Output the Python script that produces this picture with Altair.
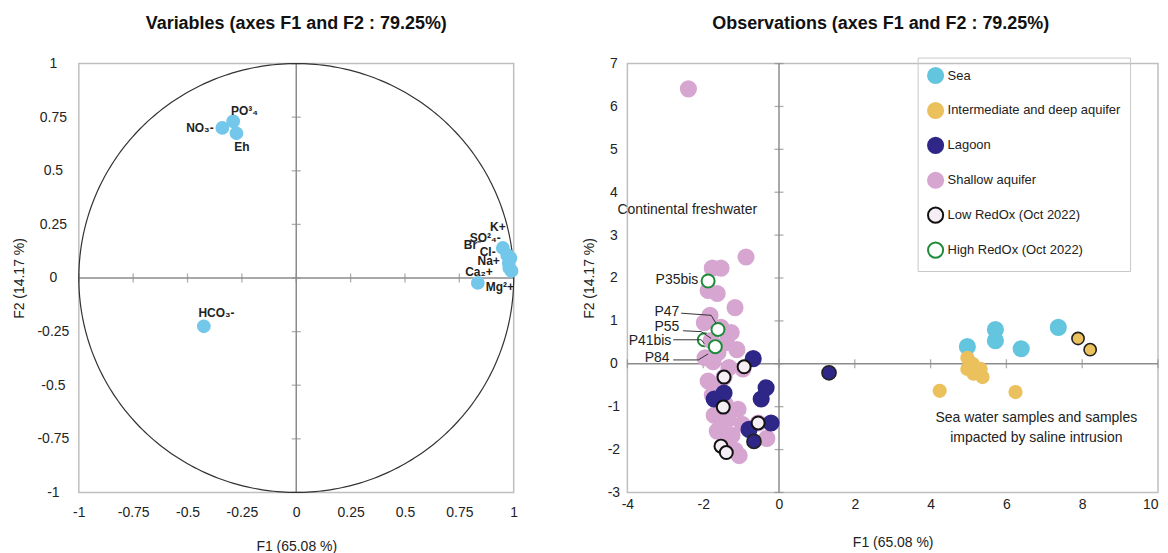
import altair as alt
import pandas as pd
import numpy as np

FONT = "Liberation Sans"
GRAY = "#8C8C8C"

# ---------------- Left panel: variables (correlation circle) ----------------
var_names = ["NO₃-", "PO³₄", "Eh", "HCO₃-", "K+", "SO²₄-", "Br⁻", "Cl-", "Na+", "Ca₂+", "Mg²+"]
var_f1 = [-0.34, -0.29, -0.275, -0.425, 0.95, 0.97, 0.985, 0.977, 0.98, 0.835, 0.99]
var_f2 = [0.70, 0.73, 0.675, -0.225, 0.14, 0.107, 0.093, 0.07, 0.047, -0.023, 0.033]
lab_f1 = [-0.38, -0.30, -0.285, -0.45, 0.963, 0.94, 0.85, 0.917, 0.936, 0.904, 0.872]
lab_f2 = [0.70, 0.78, 0.61, -0.165, 0.24, 0.185, 0.153, 0.12, 0.08, 0.028, -0.042]
lab_align = ["right", "left", "left", "left", "right", "right", "right", "right", "right", "right", "left"]

left_ticks = [-1, -0.75, -0.5, -0.25, 0, 0.25, 0.5, 0.75, 1]

# ---------------- Right panel: observations ----------------
groups = ["Sea", "Intermediate and deep aquifer", "Lagoon", "Shallow aquifer",
          "Low RedOx (Oct 2022)", "High RedOx (Oct 2022)"]
fills = ["#63C5DE", "#EBC15D", "#2E2787", "#D6A6D1", "#F6EEF5", "#FFFFFF"]
strokes = ["#63C5DE", "#EBC15D", "#2E2787", "#D6A6D1", "#111111", "#1E8B3A"]

sea_f1 = [4.97, 5.71, 5.71, 6.39, 7.37]
sea_f2 = [0.40, 0.80, 0.54, 0.35, 0.85]

deep_f1 = [4.97, 5.11, 4.97, 5.18, 5.32, 5.37, 5.13, 4.24, 6.24]
deep_f2 = [0.14, 0.00, -0.12, -0.16, -0.12, -0.31, -0.23, -0.63, -0.66]
deep_out_f1 = [7.89, 8.21]
deep_out_f2 = [0.59, 0.33]

lagoon_f1 = [-0.68, -0.34, -0.47, -1.45, -1.71, -0.21, -0.79]
lagoon_f2 = [0.12, -0.56, -0.82, -0.68, -0.82, -1.38, -1.53]
lagoon_out_f1 = [1.32, -0.66]
lagoon_out_f2 = [-0.21, -1.81]

shallow_f1 = [-2.39, -0.87, -1.76, -1.53, -1.87, -1.63, -1.16, -1.82, -1.97, -1.53,
              -1.26, -1.79, -1.39, -1.11, -1.61, -1.95, -1.74, -1.32, -0.95, -1.87,
              -1.61, -1.76, -1.42, -1.08, -1.71, -1.34, -1.53, -0.97, -1.63, -1.24,
              -0.32, -1.42, -1.16, -1.05, -0.55, -1.45]
shallow_f2 = [6.41, 2.49, 2.23, 2.23, 1.71, 1.64, 1.31, 1.13, 0.96, 0.85,
              0.73, 0.54, 0.49, 0.33, 0.26, 0.14, 0.05, -0.09, -0.12, -0.40,
              -0.56, -0.73, -0.94, -1.06, -1.20, -1.29, -1.43, -1.41, -1.57, -1.67,
              -1.74, -1.85, -2.02, -2.14, -1.38, -0.31]

low_f1 = [-1.45, -1.47, -0.92, -0.55, -1.53, -1.39]
low_f2 = [-0.31, -1.01, -0.07, -1.38, -1.92, -2.07]

high_f1 = [-1.87, -1.61, -1.68]
high_f2 = [1.93, 0.80, 0.40]
high_hidden_f1 = [-1.47, -1.97]
high_hidden_f2 = [0.61, 0.56]

p_labels = ["P35bis", "P47", "P55", "P41bis", "P84"]
p_lab_f1 = [-2.13, -2.63, -2.63, -2.84, -2.89]
p_lab_f2 = [1.95, 1.20, 0.85, 0.54, 0.14]
leader_name = ["P47"] * 3 + ["P55"] * 3 + ["P41bis"] * 3 + ["P84"] * 3
leader_f1 = [-2.58, -1.79, -1.66, -2.53, -2.05, -1.79, -2.79, -2.05, -1.97, -2.79, -2.13, -1.87]
leader_f2 = [1.18, 1.13, 0.94, 0.77, 0.75, 0.59, 0.56, 0.56, 0.47, 0.09, 0.09, 0.23]

note_text = ["Continental freshwater", "Sea water samples and samples", "impacted by saline intrusion"]
note_f1 = [-2.42, 6.79, 6.79]
note_f2 = [3.59, -1.27, -1.74]

right_xticks = [-4, -2, 0, 2, 4, 6, 8, 10]
right_yticks = [-3, -2, -1, 0, 1, 2, 3, 4, 5, 6, 7]

# ---------------- helpers ----------------
label_expr = ("datum.value == 0 ? '0' : (datum.value < 0 ? '-' + format(-datum.value, '~g') "
              ": format(datum.value, '~g'))")

# ================= LEFT CHART =================
lx = alt.Scale(domain=[-1, 1], nice=False, zero=False)
ly = alt.Scale(domain=[-1, 1], nice=False, zero=False)

xax_l = alt.Axis(values=left_ticks, labelExpr=label_expr, grid=False, domain=False, ticks=False,
                 labelFlush=False, labelPadding=13, labelFontSize=14, title="F1 (65.08 %)",
                 titleFontSize=14, titleFontWeight="normal", titlePadding=20,
                 labelColor="#222", titleColor="#222")
yax_l = alt.Axis(values=left_ticks, labelExpr=label_expr, grid=False, domain=False, ticks=False,
                 labelFlush=False, labelPadding=26, labelAlign="center", labelBaseline="middle",
                 labelFontSize=14, title="F2 (14.17 %)", titleFontSize=14, titleFontWeight="normal",
                 titlePadding=11, labelColor="#222", titleColor="#222")

theta = np.linspace(0, 2 * np.pi, 361)
circle_df = pd.DataFrame({"f1": np.cos(theta), "f2": np.sin(theta), "o": np.arange(361)})

vars_df = pd.DataFrame({"name": var_names, "f1": var_f1, "f2": var_f2,
                        "lx": lab_f1, "ly": lab_f2, "align": lab_align})
ltick_df = pd.DataFrame({"v": left_ticks, "z": [0] * len(left_ticks)})

zero_v_l = alt.Chart(pd.DataFrame({"z": [0]})).mark_rule(color=GRAY, strokeWidth=1.5).encode(
    x=alt.X("z:Q", scale=lx, axis=xax_l))
zero_h_l = alt.Chart(pd.DataFrame({"z": [0]})).mark_rule(color=GRAY, strokeWidth=1.5).encode(
    y=alt.Y("z:Q", scale=ly, axis=yax_l))
ticks_v_l = alt.Chart(ltick_df).mark_tick(orient="horizontal", size=9, thickness=1.3, color=GRAY).encode(
    x=alt.X("z:Q", scale=lx), y=alt.Y("v:Q", scale=ly))
ticks_h_l = alt.Chart(ltick_df).mark_tick(orient="vertical", size=9, thickness=1.3, color=GRAY).encode(
    x=alt.X("v:Q", scale=lx), y=alt.Y("z:Q", scale=ly))
circle = alt.Chart(circle_df).mark_line(color="#333333", strokeWidth=1.2).encode(
    x=alt.X("f1:Q", scale=lx), y=alt.Y("f2:Q", scale=ly), order="o:Q")
var_pts = alt.Chart(vars_df).mark_circle(size=190, color="#72C7EA", opacity=1).encode(
    x=alt.X("f1:Q", scale=lx), y=alt.Y("f2:Q", scale=ly))
var_lab_r = alt.Chart(vars_df).transform_filter("datum.align == 'right'").mark_text(
    align="right", baseline="middle", fontSize=12, fontWeight="bold", color="#222").encode(
    x=alt.X("lx:Q", scale=lx), y=alt.Y("ly:Q", scale=ly), text="name:N")
var_lab_l = alt.Chart(vars_df).transform_filter("datum.align == 'left'").mark_text(
    align="left", baseline="middle", fontSize=12, fontWeight="bold", color="#222").encode(
    x=alt.X("lx:Q", scale=lx), y=alt.Y("ly:Q", scale=ly), text="name:N")

left = alt.layer(zero_v_l, zero_h_l, ticks_v_l, ticks_h_l, circle, var_pts, var_lab_r, var_lab_l).properties(
    width=436, height=430,
    title=alt.TitleParams("Variables (axes F1 and F2 : 79.25%)", fontSize=18, fontWeight="bold",
                          anchor="middle", frame="group", offset=24, color="#111"))

# ================= RIGHT CHART =================
rx = alt.Scale(domain=[-4, 10], nice=False, zero=False)
ry = alt.Scale(domain=[-3, 7], nice=False, zero=False)

last_right = alt.condition("datum.value == 10", alt.value("right"), alt.value("center"))
xax_r = alt.Axis(values=right_xticks, labelExpr=label_expr, grid=False, domain=False, ticks=False,
                 labelFlush=False, labelAlign=last_right, labelPadding=5, labelFontSize=14,
                 title="F1 (65.08 %)", titleFontSize=14, titleFontWeight="normal", titlePadding=24,
                 labelColor="#222", titleColor="#222")
yax_r = alt.Axis(values=right_yticks, labelExpr=label_expr, grid=False, domain=False, ticks=False,
                 labelFlush=False, labelPadding=14, labelAlign="center", labelBaseline="middle",
                 labelFontSize=14, title="F2 (14.17 %)", titleFontSize=14, titleFontWeight="normal",
                 titlePadding=11, labelColor="#222", titleColor="#222")

rows = []
for g, xs, ys, sz in [("Shallow aquifer", shallow_f1, shallow_f2, 230),
                      ("Sea", sea_f1, sea_f2, 230),
                      ("Intermediate and deep aquifer", deep_f1, deep_f2, 150),
                      ("Lagoon", lagoon_f1, lagoon_f2, 230),
                      ("Low RedOx (Oct 2022)", low_f1, low_f2, 170),
                      ("High RedOx (Oct 2022)", high_f1, high_f2, 170)]:
    for a, b in zip(xs, ys):
        rows.append({"group": g, "f1": a, "f2": b, "sz": sz})
obs_df = pd.DataFrame(rows)
obs_df["o"] = np.arange(len(obs_df))

outl_df = pd.DataFrame({
    "f1": deep_out_f1 + lagoon_out_f1,
    "f2": deep_out_f2 + lagoon_out_f2,
    "fill": ["#EBC15D"] * len(deep_out_f1) + ["#2E2787"] * len(lagoon_out_f1),
    "sz": [150] * len(deep_out_f1) + [200] * len(lagoon_out_f1),
})
hidden_df = pd.DataFrame({"f1": high_hidden_f1, "f2": high_hidden_f2})
rtick_y = pd.DataFrame({"v": right_yticks, "z": [0] * len(right_yticks)})
rtick_x = pd.DataFrame({"v": right_xticks, "z": [0] * len(right_xticks)})
plab_df = pd.DataFrame({"t": p_labels, "f1": p_lab_f1, "f2": p_lab_f2})
lead_df = pd.DataFrame({"n": leader_name, "f1": leader_f1, "f2": leader_f2,
                        "o": list(range(len(leader_name)))})
note_df = pd.DataFrame({"t": note_text, "f1": note_f1, "f2": note_f2})

zero_v_r = alt.Chart(pd.DataFrame({"z": [0]})).mark_rule(color=GRAY, strokeWidth=1.5).encode(
    x=alt.X("z:Q", scale=rx, axis=xax_r))
zero_h_r = alt.Chart(pd.DataFrame({"z": [0]})).mark_rule(color=GRAY, strokeWidth=1.5).encode(
    y=alt.Y("z:Q", scale=ry, axis=yax_r))
ticks_v_r = alt.Chart(rtick_y).mark_tick(orient="horizontal", size=9, thickness=1.3, color=GRAY).encode(
    x=alt.X("z:Q", scale=rx), y=alt.Y("v:Q", scale=ry))
ticks_h_r = alt.Chart(rtick_x).mark_tick(orient="vertical", size=9, thickness=1.3, color=GRAY).encode(
    x=alt.X("v:Q", scale=rx), y=alt.Y("z:Q", scale=ry))
hidden_pts = alt.Chart(hidden_df).mark_point(shape="circle", size=170, filled=False,
                                              stroke="#1E8B3A", strokeWidth=2, opacity=1).encode(
    x=alt.X("f1:Q", scale=rx), y=alt.Y("f2:Q", scale=ry))

legend = alt.Legend(title=None, orient="none", legendX=291, legendY=-6, labelFontSize=13,
                    labelFont=FONT, labelColor="#222", labelLimit=400, symbolSize=230,
                    symbolStrokeWidth=2, symbolType="circle", rowPadding=11, padding=9,
                    strokeColor="#C8C8C8", labelOffset=3)
obs_pts = alt.Chart(obs_df).mark_point(shape="circle", filled=True, strokeWidth=2, opacity=1,
                                       fillOpacity=1).encode(
    x=alt.X("f1:Q", scale=rx), y=alt.Y("f2:Q", scale=ry),
    fill=alt.Fill("group:N", scale=alt.Scale(domain=groups, range=fills), legend=legend),
    stroke=alt.Stroke("group:N", scale=alt.Scale(domain=groups, range=strokes), legend=legend),
    size=alt.Size("sz:Q", scale=None),
    order=alt.Order("o:Q"))
outl_pts = alt.Chart(outl_df).mark_point(shape="circle", filled=True, stroke="#222", strokeWidth=1.6,
                                         opacity=1).encode(
    x=alt.X("f1:Q", scale=rx), y=alt.Y("f2:Q", scale=ry),
    fill=alt.Fill("fill:N", scale=None), size=alt.Size("sz:Q", scale=None))
leaders = alt.Chart(lead_df).mark_line(color="#333", strokeWidth=1).encode(
    x=alt.X("f1:Q", scale=rx), y=alt.Y("f2:Q", scale=ry), detail="n:N", order="o:Q")
plabs = alt.Chart(plab_df).mark_text(align="right", baseline="middle", fontSize=14, color="#222").encode(
    x=alt.X("f1:Q", scale=rx), y=alt.Y("f2:Q", scale=ry), text="t:N")
notes = alt.Chart(note_df).mark_text(align="center", baseline="middle", fontSize=14, color="#222").encode(
    x=alt.X("f1:Q", scale=rx), y=alt.Y("f2:Q", scale=ry), text="t:N")

right = alt.layer(zero_v_r, zero_h_r, ticks_v_r, ticks_h_r, hidden_pts, obs_pts, outl_pts,
                  leaders, plabs, notes).properties(
    width=532, height=430,
    title=alt.TitleParams("Observations (axes F1 and F2 : 79.25%)", fontSize=18, fontWeight="bold",
                          anchor="middle", frame="group", offset=24, dx=-12, color="#111"))

chart = alt.hconcat(left, right, spacing=62).resolve_legend(
    fill="independent", stroke="independent"
).properties(
    padding={"left": 3, "top": 5, "right": 0, "bottom": 0}
).configure(font=FONT).configure_view(stroke="#BFBFBF", strokeWidth=1.5)

chart.save("out.html", embed_options={"renderer": "svg", "actions": False})
